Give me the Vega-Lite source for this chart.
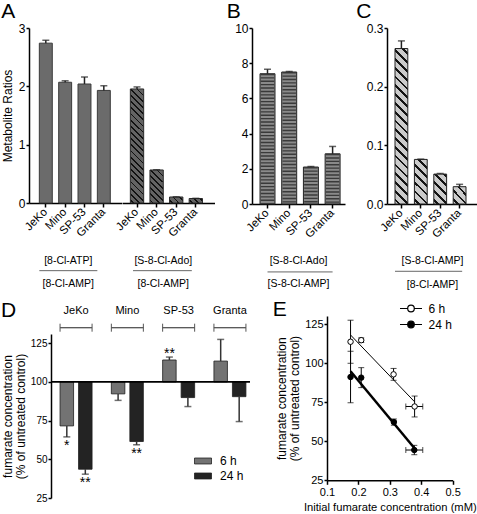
{
"$schema":"https://vega.github.io/schema/vega-lite/v6.json",
"padding":{"top":1,"left":0,"right":0,"bottom":0},
"config":{
 "view":{"stroke":null},
 "font":"Liberation Sans",
 "axis":{"domainColor":"#000","domainWidth":1.5,"tickColor":"#000","tickWidth":1.5,"tickSize":4,"labelColor":"#000","labelFontSize":12,"labelPadding":2,"titleFontSize":12,"titleFontWeight":"normal","titleColor":"#000","grid":false,"labelFlush":false,"labelOverlap":false},
 "axisY":{"tickSize":3,"labelPadding":1},
 "title":{"fontSize":21,"fontWeight":"normal","anchor":"start","color":"#000","offset":4}
},
"datasets":{
 "atp":[{"cell":"JeKo","value":2.74,"hi":2.79},{"cell":"Mino","value":2.07,"hi":2.095},{"cell":"SP-53","value":2.04,"hi":2.16},{"cell":"Granta","value":1.93,"hi":2.01}],
 "ado":[{"cell":"JeKo","value":1.955,"hi":1.99},{"cell":"Mino","value":0.566,"hi":0.57},{"cell":"SP-53","value":0.103,"hi":0.106},{"cell":"Granta","value":0.077,"hi":0.08}],
 "adoS":[{"cell":"JeKo","value":7.4,"hi":7.65},{"cell":"Mino","value":7.5,"hi":7.53},{"cell":"SP-53","value":2.1,"hi":2.13},{"cell":"Granta","value":2.85,"hi":3.27}],
 "ampS":[{"cell":"JeKo","value":0.265,"hi":0.278},{"cell":"Mino","value":0.076,"hi":0.0765},{"cell":"SP-53","value":0.051,"hi":0.052},{"cell":"Granta","value":0.0295,"hi":0.0335}],
 "fA1":[{"num":"[8-Cl-ATP]","den":"[8-Cl-AMP]"}],
 "fA2":[{"num":"[S-8-Cl-Ado]","den":"[8-Cl-AMP]"}],
 "fB":[{"num":"[S-8-Cl-Ado]","den":"[S-8-Cl-AMP]"}],
 "fC":[{"num":"[S-8-Cl-AMP]","den":"[8-Cl-AMP]"}],
 "cells":[{"cell":"JeKo"},{"cell":"Mino"},{"cell":"SP-53"},{"cell":"Granta"}],
 "fum":[
  {"cell":"JeKo","time":"6 h","value":71.6,"end":64.5,"sig":"*"},
  {"cell":"JeKo","time":"24 h","value":43.6,"end":40.4,"sig":"**"},
  {"cell":"Mino","time":"6 h","value":92.3,"end":88.1,"sig":""},
  {"cell":"Mino","time":"24 h","value":61.5,"end":59.4,"sig":"**"},
  {"cell":"SP-53","time":"6 h","value":114.2,"end":116.1,"sig":"**"},
  {"cell":"SP-53","time":"24 h","value":89.9,"end":84.1,"sig":""},
  {"cell":"Granta","time":"6 h","value":113.5,"end":127.5,"sig":""},
  {"cell":"Granta","time":"24 h","value":90.5,"end":74.4,"sig":""}],
 "fit":[
  {"time":"6 h","conc":0.175,"value":113.8,"ylo":100,"yhi":127.6},
  {"time":"6 h","conc":0.209,"value":114.8,"ylo":113.3,"yhi":116.3},
  {"time":"6 h","conc":0.312,"value":92.9,"ylo":89.1,"yhi":96.7},
  {"time":"6 h","conc":0.379,"value":72.3,"ylo":65.6,"yhi":79,"xlo":0.351,"xhi":0.405},
  {"time":"24 h","conc":0.175,"value":91.2,"ylo":74.7,"yhi":107.7},
  {"time":"24 h","conc":0.209,"value":90.8,"ylo":84.4,"yhi":97.2},
  {"time":"24 h","conc":0.313,"value":62.3,"ylo":60.3,"yhi":64.3},
  {"time":"24 h","conc":0.378,"value":44.4,"ylo":41.4,"yhi":47.4,"xlo":0.351,"xhi":0.405}]
},
"spacing":8,
"vconcat":[
 {"spacing":0,"hconcat":[
  {"width":1,"height":1,"data":{"values":[]},"mark":{"type":"point","opacity":0}},
  {"spacing":11,"resolve":{"scale":{"x":"independent","y":"independent"}},"hconcat":[
   {"spacing":11,"resolve":{"scale":{"x":"independent","y":"independent"}},"hconcat":[
    {"spacing":0,"bounds":"flush","resolve":{"scale":{"x":"independent","y":"independent"}},"hconcat":[
     {"width":92.5,"height":175,"title":{"text":"A","dy":4},
      "layer":[
       {"data":{"name":"atp"},"mark":{"type":"bar","fill":"#6b6b6b","stroke":"#3a3a3a","strokeWidth":1},
        "encoding":{"x":{"field":"cell","type":"nominal","scale":{"domain":["JeKo","Mino","SP-53","Granta"],"paddingInner":0.33,"paddingOuter":0.557,"align":0.48},"axis":{"title":null,"labelAngle":-45,"labelAlign":"right","labelBaseline":"middle","labelFontSize":11.5,"labelPadding":3}},
         "y":{"field":"value","type":"quantitative","scale":{"domain":[0,3],"nice":false},"axis":{"values":[0,1,2,3],"format":"d","labelOverlap":false,"title":"Metabolite Ratios","titlePadding":4}}}},
       {"data":{"name":"atp"},"mark":{"type":"rule","strokeWidth":1.5,"color":"#222"},"encoding":{"x":{"field":"cell","type":"nominal"},"y":{"field":"value","type":"quantitative"},"y2":{"field":"hi"}}},
       {"data":{"name":"atp"},"mark":{"type":"tick","size":7,"thickness":1.5,"color":"#222","orient":"horizontal"},"encoding":{"x":{"field":"cell","type":"nominal"},"y":{"field":"hi","type":"quantitative"}}},
       {"data":{"name":"fA1"},"mark":{"type":"text","fontSize":10.5,"dx":-7,"baseline":"middle"},"encoding":{"text":{"field":"num"},"y":{"datum":-0.99}}},
       {"data":{"name":"fA1"},"mark":{"type":"text","fontSize":10.5,"dx":-7,"baseline":"middle"},"encoding":{"text":{"field":"den"},"y":{"datum":-1.385}}},
       {"data":{"name":"fA1"},"mark":{"type":"rule","color":"#666","strokeWidth":1},"encoding":{"x":{"datum":"JeKo","bandPosition":0},"x2":{"datum":"Granta","bandPosition":0},"y":{"datum":-1.16}}}
      ]},
     {"width":92.5,"height":175,
      "layer":[
       {"data":{"name":"ado"},"mark":{"type":"bar","stroke":"#2a2a2a","strokeWidth":1},
        "encoding":{"x":{"field":"cell","type":"nominal","scale":{"domain":["JeKo","Mino","SP-53","Granta"],"paddingInner":0.32,"paddingOuter":0.52,"align":0.41},"axis":{"title":null,"labelAngle":-45,"labelAlign":"right","labelBaseline":"middle","labelFontSize":11.5,"labelPadding":3}},
         "y":{"field":"value","type":"quantitative","scale":{"domain":[0,3],"nice":false},"axis":null},
         "fill":{"condition":[
          {"test":"datum.cell==='JeKo'","value":{"gradient":"linear","x1":0,"y1":1,"x2":0.1282,"y2":-0.1014,"stops":[
{"offset":0.0172,"color":"#636363"},{"offset":0.0172,"color":"#111"},{"offset":0.0313,"color":"#111"},{"offset":0.0313,"color":"#636363"},
{"offset":0.0658,"color":"#636363"},{"offset":0.0658,"color":"#111"},{"offset":0.0799,"color":"#111"},{"offset":0.0799,"color":"#636363"},
{"offset":0.1144,"color":"#636363"},{"offset":0.1144,"color":"#111"},{"offset":0.1285,"color":"#111"},{"offset":0.1285,"color":"#636363"},
{"offset":0.1630,"color":"#636363"},{"offset":0.1630,"color":"#111"},{"offset":0.1771,"color":"#111"},{"offset":0.1771,"color":"#636363"},
{"offset":0.2116,"color":"#636363"},{"offset":0.2116,"color":"#111"},{"offset":0.2257,"color":"#111"},{"offset":0.2257,"color":"#636363"},
{"offset":0.2602,"color":"#636363"},{"offset":0.2602,"color":"#111"},{"offset":0.2743,"color":"#111"},{"offset":0.2743,"color":"#636363"},
{"offset":0.3088,"color":"#636363"},{"offset":0.3088,"color":"#111"},{"offset":0.3229,"color":"#111"},{"offset":0.3229,"color":"#636363"},
{"offset":0.3574,"color":"#636363"},{"offset":0.3574,"color":"#111"},{"offset":0.3715,"color":"#111"},{"offset":0.3715,"color":"#636363"},
{"offset":0.4060,"color":"#636363"},{"offset":0.4060,"color":"#111"},{"offset":0.4201,"color":"#111"},{"offset":0.4201,"color":"#636363"},
{"offset":0.4545,"color":"#636363"},{"offset":0.4545,"color":"#111"},{"offset":0.4687,"color":"#111"},{"offset":0.4687,"color":"#636363"},
{"offset":0.5031,"color":"#636363"},{"offset":0.5031,"color":"#111"},{"offset":0.5172,"color":"#111"},{"offset":0.5172,"color":"#636363"},
{"offset":0.5517,"color":"#636363"},{"offset":0.5517,"color":"#111"},{"offset":0.5658,"color":"#111"},{"offset":0.5658,"color":"#636363"},
{"offset":0.6003,"color":"#636363"},{"offset":0.6003,"color":"#111"},{"offset":0.6144,"color":"#111"},{"offset":0.6144,"color":"#636363"},
{"offset":0.6489,"color":"#636363"},{"offset":0.6489,"color":"#111"},{"offset":0.6630,"color":"#111"},{"offset":0.6630,"color":"#636363"},
{"offset":0.6975,"color":"#636363"},{"offset":0.6975,"color":"#111"},{"offset":0.7116,"color":"#111"},{"offset":0.7116,"color":"#636363"},
{"offset":0.7461,"color":"#636363"},{"offset":0.7461,"color":"#111"},{"offset":0.7602,"color":"#111"},{"offset":0.7602,"color":"#636363"},
{"offset":0.7947,"color":"#636363"},{"offset":0.7947,"color":"#111"},{"offset":0.8088,"color":"#111"},{"offset":0.8088,"color":"#636363"},
{"offset":0.8433,"color":"#636363"},{"offset":0.8433,"color":"#111"},{"offset":0.8574,"color":"#111"},{"offset":0.8574,"color":"#636363"},
{"offset":0.8919,"color":"#636363"},{"offset":0.8919,"color":"#111"},{"offset":0.9060,"color":"#111"},{"offset":0.9060,"color":"#636363"},
{"offset":0.9404,"color":"#636363"},{"offset":0.9404,"color":"#111"},{"offset":0.9546,"color":"#111"},{"offset":0.9546,"color":"#636363"},
{"offset":0.9890,"color":"#636363"},{"offset":0.9890,"color":"#111"},{"offset":1,"color":"#111"}]}},
          {"test":"datum.cell==='Mino'","value":{"gradient":"linear","x1":0,"y1":1,"x2":1.320,"y2":-2.305,"stops":[
{"offset":0.0172,"color":"#636363"},{"offset":0.0172,"color":"#111"},{"offset":0.0313,"color":"#111"},{"offset":0.0313,"color":"#636363"},
{"offset":0.0658,"color":"#636363"},{"offset":0.0658,"color":"#111"},{"offset":0.0799,"color":"#111"},{"offset":0.0799,"color":"#636363"},
{"offset":0.1144,"color":"#636363"},{"offset":0.1144,"color":"#111"},{"offset":0.1285,"color":"#111"},{"offset":0.1285,"color":"#636363"},
{"offset":0.1630,"color":"#636363"},{"offset":0.1630,"color":"#111"},{"offset":0.1771,"color":"#111"},{"offset":0.1771,"color":"#636363"},
{"offset":0.2116,"color":"#636363"},{"offset":0.2116,"color":"#111"},{"offset":0.2257,"color":"#111"},{"offset":0.2257,"color":"#636363"},
{"offset":0.2602,"color":"#636363"},{"offset":0.2602,"color":"#111"},{"offset":0.2743,"color":"#111"},{"offset":0.2743,"color":"#636363"},
{"offset":0.3088,"color":"#636363"},{"offset":0.3088,"color":"#111"},{"offset":0.3229,"color":"#111"},{"offset":0.3229,"color":"#636363"},
{"offset":0.3574,"color":"#636363"},{"offset":0.3574,"color":"#111"},{"offset":0.3715,"color":"#111"},{"offset":0.3715,"color":"#636363"}]}},
          {"test":"datum.cell==='SP-53'","value":{"gradient":"linear","x1":0,"y1":1,"x2":8.061,"y2":-2.515,"stops":[
{"offset":0.0172,"color":"#636363"},{"offset":0.0172,"color":"#111"},{"offset":0.0313,"color":"#111"},{"offset":0.0313,"color":"#636363"},
{"offset":0.0658,"color":"#636363"},{"offset":0.0658,"color":"#111"},{"offset":0.0799,"color":"#111"},{"offset":0.0799,"color":"#636363"},
{"offset":0.1144,"color":"#636363"},{"offset":0.1144,"color":"#111"},{"offset":0.1285,"color":"#111"},{"offset":0.1285,"color":"#636363"}]}}],
          "value":{"gradient":"linear","x1":0,"y1":1,"x2":8.529,"y2":-2.014,"stops":[
{"offset":0.0172,"color":"#636363"},{"offset":0.0172,"color":"#111"},{"offset":0.0313,"color":"#111"},{"offset":0.0313,"color":"#636363"},
{"offset":0.0658,"color":"#636363"},{"offset":0.0658,"color":"#111"},{"offset":0.0799,"color":"#111"},{"offset":0.0799,"color":"#636363"},
{"offset":0.1144,"color":"#636363"},{"offset":0.1144,"color":"#111"},{"offset":0.1285,"color":"#111"},{"offset":0.1285,"color":"#636363"}]}}}},
       {"data":{"name":"ado"},"mark":{"type":"rule","strokeWidth":1.5,"color":"#222"},"encoding":{"x":{"field":"cell","type":"nominal"},"y":{"field":"value","type":"quantitative"},"y2":{"field":"hi"}}},
       {"data":{"name":"ado"},"mark":{"type":"tick","size":7,"thickness":1.5,"color":"#222","orient":"horizontal"},"encoding":{"x":{"field":"cell","type":"nominal"},"y":{"field":"hi","type":"quantitative"}}},
       {"data":{"name":"fA2"},"mark":{"type":"text","fontSize":10.5,"dx":-5,"baseline":"middle"},"encoding":{"text":{"field":"num"},"y":{"datum":-0.99}}},
       {"data":{"name":"fA2"},"mark":{"type":"text","fontSize":10.5,"dx":-5,"baseline":"middle"},"encoding":{"text":{"field":"den"},"y":{"datum":-1.385}}},
       {"data":{"name":"fA2"},"mark":{"type":"rule","color":"#666","strokeWidth":1},"encoding":{"x":{"datum":"JeKo","bandPosition":0.2},"x2":{"datum":"Granta","bandPosition":0.2},"y":{"datum":-1.16}}}
      ]}
    ]},
    {"width":93,"height":176,"title":{"text":"B","dx":-8,"dy":4},
     "layer":[
      {"data":{"name":"adoS"},"mark":{"type":"bar","fill":"#8a8a8a","stroke":"#222","strokeWidth":1},
       "encoding":{"x":{"field":"cell","type":"nominal","scale":{"domain":["JeKo","Mino","SP-53","Granta"],"paddingInner":0.31,"paddingOuter":0.298,"align":0.62},"axis":{"title":null,"labelAngle":-45,"labelAlign":"right","labelBaseline":"middle","labelFontSize":11.5,"labelPadding":3}},
        "y":{"field":"value","type":"quantitative","scale":{"domain":[0,10],"nice":false},"axis":{"tickCount":5,"format":"d","labelOverlap":false,"title":null}}}},
      {"data":{"name":"adoS"},"mark":{"type":"rule","strokeWidth":13.5,"strokeDash":[1.4,2],"color":"#3a3a3a"},"encoding":{"x":{"field":"cell","type":"nominal"},"y":{"field":"value","type":"quantitative"},"y2":{"datum":0}}},
      {"data":{"name":"adoS"},"mark":{"type":"rule","strokeWidth":1.5,"color":"#222"},"encoding":{"x":{"field":"cell","type":"nominal"},"y":{"field":"value","type":"quantitative"},"y2":{"field":"hi"}}},
      {"data":{"name":"adoS"},"mark":{"type":"tick","size":7,"thickness":1.5,"color":"#222","orient":"horizontal"},"encoding":{"x":{"field":"cell","type":"nominal"},"y":{"field":"hi","type":"quantitative"}}},
      {"data":{"name":"fB"},"mark":{"type":"text","fontSize":10.5,"baseline":"middle"},"encoding":{"text":{"field":"num"},"y":{"datum":-3.26}}},
      {"data":{"name":"fB"},"mark":{"type":"text","fontSize":10.5,"baseline":"middle"},"encoding":{"text":{"field":"den"},"y":{"datum":-4.53}}},
      {"data":{"name":"fB"},"mark":{"type":"rule","color":"#666","strokeWidth":1},"encoding":{"x":{"datum":"JeKo"},"x2":{"datum":"Granta"},"y":{"datum":-3.86}}}
     ]}
   ]},
   {"width":93,"height":176,"title":{"text":"C","dx":-10,"dy":4},
    "layer":[
     {"data":{"name":"ampS"},"mark":{"type":"bar","stroke":"#222","strokeWidth":1},
      "encoding":{"x":{"field":"cell","type":"nominal","scale":{"domain":["JeKo","Mino","SP-53","Granta"],"paddingInner":0.34,"paddingOuter":0.567,"align":0.364},"axis":{"title":null,"labelAngle":-45,"labelAlign":"right","labelBaseline":"middle","labelFontSize":11.5,"labelPadding":3}},
       "y":{"field":"value","type":"quantitative","scale":{"domain":[0,0.3],"nice":false},"axis":{"values":[0,0.1,0.2,0.3],"format":".1f","labelOverlap":false,"title":null}},
       "fill":{"condition":[
        {"test":"datum.cell==='JeKo'","value":{"gradient":"linear","x1":0,"y1":1,"x2":0.0885,"y2":-0.075,"stops":[
{"offset":0.0178,"color":"#cbcbcb"},{"offset":0.0178,"color":"#141414"},{"offset":0.0344,"color":"#141414"},{"offset":0.0344,"color":"#cbcbcb"},
{"offset":0.0701,"color":"#cbcbcb"},{"offset":0.0701,"color":"#141414"},{"offset":0.0867,"color":"#141414"},{"offset":0.0867,"color":"#cbcbcb"},
{"offset":0.1224,"color":"#cbcbcb"},{"offset":0.1224,"color":"#141414"},{"offset":0.1390,"color":"#141414"},{"offset":0.1390,"color":"#cbcbcb"},
{"offset":0.1747,"color":"#cbcbcb"},{"offset":0.1747,"color":"#141414"},{"offset":0.1913,"color":"#141414"},{"offset":0.1913,"color":"#cbcbcb"},
{"offset":0.2270,"color":"#cbcbcb"},{"offset":0.2270,"color":"#141414"},{"offset":0.2436,"color":"#141414"},{"offset":0.2436,"color":"#cbcbcb"},
{"offset":0.2793,"color":"#cbcbcb"},{"offset":0.2793,"color":"#141414"},{"offset":0.2959,"color":"#141414"},{"offset":0.2959,"color":"#cbcbcb"},
{"offset":0.3316,"color":"#cbcbcb"},{"offset":0.3316,"color":"#141414"},{"offset":0.3482,"color":"#141414"},{"offset":0.3482,"color":"#cbcbcb"},
{"offset":0.3839,"color":"#cbcbcb"},{"offset":0.3839,"color":"#141414"},{"offset":0.4005,"color":"#141414"},{"offset":0.4005,"color":"#cbcbcb"},
{"offset":0.4361,"color":"#cbcbcb"},{"offset":0.4361,"color":"#141414"},{"offset":0.4527,"color":"#141414"},{"offset":0.4527,"color":"#cbcbcb"},
{"offset":0.4884,"color":"#cbcbcb"},{"offset":0.4884,"color":"#141414"},{"offset":0.5050,"color":"#141414"},{"offset":0.5050,"color":"#cbcbcb"},
{"offset":0.5407,"color":"#cbcbcb"},{"offset":0.5407,"color":"#141414"},{"offset":0.5573,"color":"#141414"},{"offset":0.5573,"color":"#cbcbcb"},
{"offset":0.5930,"color":"#cbcbcb"},{"offset":0.5930,"color":"#141414"},{"offset":0.6096,"color":"#141414"},{"offset":0.6096,"color":"#cbcbcb"},
{"offset":0.6453,"color":"#cbcbcb"},{"offset":0.6453,"color":"#141414"},{"offset":0.6619,"color":"#141414"},{"offset":0.6619,"color":"#cbcbcb"},
{"offset":0.6976,"color":"#cbcbcb"},{"offset":0.6976,"color":"#141414"},{"offset":0.7142,"color":"#141414"},{"offset":0.7142,"color":"#cbcbcb"},
{"offset":0.7499,"color":"#cbcbcb"},{"offset":0.7499,"color":"#141414"},{"offset":0.7665,"color":"#141414"},{"offset":0.7665,"color":"#cbcbcb"},
{"offset":0.8022,"color":"#cbcbcb"},{"offset":0.8022,"color":"#141414"},{"offset":0.8188,"color":"#141414"},{"offset":0.8188,"color":"#cbcbcb"},
{"offset":0.8545,"color":"#cbcbcb"},{"offset":0.8545,"color":"#141414"},{"offset":0.8711,"color":"#141414"},{"offset":0.8711,"color":"#cbcbcb"},
{"offset":0.9067,"color":"#cbcbcb"},{"offset":0.9067,"color":"#141414"},{"offset":0.9233,"color":"#141414"},{"offset":0.9233,"color":"#cbcbcb"},
{"offset":0.9590,"color":"#cbcbcb"},{"offset":0.9590,"color":"#141414"},{"offset":0.9756,"color":"#141414"},{"offset":0.9756,"color":"#cbcbcb"}]}},
        {"test":"datum.cell==='Mino'","value":{"gradient":"linear","x1":0,"y1":1,"x2":1.0006,"y2":-2.486,"stops":[
{"offset":0.0178,"color":"#cbcbcb"},{"offset":0.0178,"color":"#141414"},{"offset":0.0344,"color":"#141414"},{"offset":0.0344,"color":"#cbcbcb"},
{"offset":0.0701,"color":"#cbcbcb"},{"offset":0.0701,"color":"#141414"},{"offset":0.0867,"color":"#141414"},{"offset":0.0867,"color":"#cbcbcb"},
{"offset":0.1224,"color":"#cbcbcb"},{"offset":0.1224,"color":"#141414"},{"offset":0.1390,"color":"#141414"},{"offset":0.1390,"color":"#cbcbcb"},
{"offset":0.1747,"color":"#cbcbcb"},{"offset":0.1747,"color":"#141414"},{"offset":0.1913,"color":"#141414"},{"offset":0.1913,"color":"#cbcbcb"},
{"offset":0.2270,"color":"#cbcbcb"},{"offset":0.2270,"color":"#141414"},{"offset":0.2436,"color":"#141414"},{"offset":0.2436,"color":"#cbcbcb"},
{"offset":0.2793,"color":"#cbcbcb"},{"offset":0.2793,"color":"#141414"},{"offset":0.2959,"color":"#141414"},{"offset":0.2959,"color":"#cbcbcb"},
{"offset":0.3316,"color":"#cbcbcb"},{"offset":0.3316,"color":"#141414"},{"offset":0.3482,"color":"#141414"},{"offset":0.3482,"color":"#cbcbcb"}]}},
        {"test":"datum.cell==='SP-53'","value":{"gradient":"linear","x1":0,"y1":1,"x2":2.107,"y2":-3.824,"stops":[
{"offset":0.0178,"color":"#cbcbcb"},{"offset":0.0178,"color":"#141414"},{"offset":0.0344,"color":"#141414"},{"offset":0.0344,"color":"#cbcbcb"},
{"offset":0.0701,"color":"#cbcbcb"},{"offset":0.0701,"color":"#141414"},{"offset":0.0867,"color":"#141414"},{"offset":0.0867,"color":"#cbcbcb"},
{"offset":0.1224,"color":"#cbcbcb"},{"offset":0.1224,"color":"#141414"},{"offset":0.1390,"color":"#141414"},{"offset":0.1390,"color":"#cbcbcb"},
{"offset":0.1747,"color":"#cbcbcb"},{"offset":0.1747,"color":"#141414"},{"offset":0.1913,"color":"#141414"},{"offset":0.1913,"color":"#cbcbcb"},
{"offset":0.2270,"color":"#cbcbcb"},{"offset":0.2270,"color":"#141414"},{"offset":0.2436,"color":"#141414"},{"offset":0.2436,"color":"#cbcbcb"}]}}],
        "value":{"gradient":"linear","x1":0,"y1":1,"x2":4.757,"y2":-5.318,"stops":[
{"offset":0.0178,"color":"#cbcbcb"},{"offset":0.0178,"color":"#141414"},{"offset":0.0344,"color":"#141414"},{"offset":0.0344,"color":"#cbcbcb"},
{"offset":0.0701,"color":"#cbcbcb"},{"offset":0.0701,"color":"#141414"},{"offset":0.0867,"color":"#141414"},{"offset":0.0867,"color":"#cbcbcb"},
{"offset":0.1224,"color":"#cbcbcb"},{"offset":0.1224,"color":"#141414"},{"offset":0.1390,"color":"#141414"},{"offset":0.1390,"color":"#cbcbcb"},
{"offset":0.1747,"color":"#cbcbcb"},{"offset":0.1747,"color":"#141414"},{"offset":0.1913,"color":"#141414"},{"offset":0.1913,"color":"#cbcbcb"}]}}}},
     {"data":{"name":"ampS"},"mark":{"type":"rule","strokeWidth":1.5,"color":"#222"},"encoding":{"x":{"field":"cell","type":"nominal"},"y":{"field":"value","type":"quantitative"},"y2":{"field":"hi"}}},
     {"data":{"name":"ampS"},"mark":{"type":"tick","size":7,"thickness":1.5,"color":"#222","orient":"horizontal"},"encoding":{"x":{"field":"cell","type":"nominal"},"y":{"field":"hi","type":"quantitative"}}},
     {"data":{"name":"fC"},"mark":{"type":"text","fontSize":10.5,"dx":-1,"baseline":"middle"},"encoding":{"text":{"field":"num"},"y":{"datum":-0.0977}}},
     {"data":{"name":"fC"},"mark":{"type":"text","fontSize":10.5,"dx":-1,"baseline":"middle"},"encoding":{"text":{"field":"den"},"y":{"datum":-0.1375}}},
     {"data":{"name":"fC"},"mark":{"type":"rule","color":"#666","strokeWidth":1},"encoding":{"x":{"datum":"JeKo","bandPosition":0},"x2":{"datum":"Granta","bandPosition":0.7},"y":{"datum":-0.1147}}}
    ]}
  ]}
 ]},
 {"spacing":0,"hconcat":[
  {"width":1,"height":1,"data":{"values":[]},"mark":{"type":"point","opacity":0}},
  {"spacing":21,"resolve":{"scale":{"x":"independent","y":"independent","fill":"independent"}},"hconcat":[
   {"spacing":0,"bounds":"flush","resolve":{"scale":{"x":"independent","y":"independent"}},"vconcat":[
    {"width":199,"height":18,"title":{"text":"D","dx":-50,"dy":20.5},
     "data":{"name":"cells"},
     "encoding":{"x":{"field":"cell","type":"nominal","scale":{"domain":["JeKo","Mino","SP-53","Granta"],"paddingInner":0.376,"paddingOuter":0.128,"align":0.69},"axis":{"orient":"top","title":null,"domain":false,"ticks":false,"labelAngle":0,"labelFontSize":11,"labelPadding":1}}},
     "layer":[
      {"mark":{"type":"bar","fill":"transparent","stroke":"#555","strokeWidth":1,"strokeDash":[0,32,8,32,8]},"encoding":{"y":{"datum":2.3,"type":"quantitative","scale":{"domain":[0,18]},"axis":null},"y2":{"datum":10.3}}},
      {"mark":{"type":"bar","fill":"transparent","stroke":"#555","strokeWidth":1},"encoding":{"y":{"datum":6.3,"type":"quantitative","axis":null},"y2":{"datum":6.3}}}
     ]},
    {"width":199,"height":164,
     "data":{"name":"fum"},
     "layer":[
      {"mark":{"type":"bar","stroke":"#1e1e1e","strokeWidth":0.8},
       "encoding":{"x":{"field":"cell","type":"nominal","scale":{"domain":["JeKo","Mino","SP-53","Granta"],"paddingInner":0.376,"paddingOuter":0.128,"align":0.69},"axis":null},
        "xOffset":{"field":"time","type":"nominal","scale":{"domain":["6 h","24 h"],"paddingInner":0.27,"paddingOuter":0}},
        "y":{"field":"value","type":"quantitative","scale":{"domain":[25,131],"nice":false,"zero":false},"axis":{"values":[25,50,75,100,125],"labelOverlap":false,"title":["fumarate concentration","(% of untreated control)"],"titlePadding":3,"labelFontSize":10,"titleLineHeight":13}},
        "y2":{"datum":100},
        "fill":{"field":"time","type":"nominal","scale":{"domain":["6 h","24 h"],"range":["#737373","#232323"]},"legend":{"orient":"none","legendX":143,"legendY":136,"title":null,"symbolType":"M-1,-0.35H1V0.35H-1Z","symbolSize":289,"symbolStrokeColor":"#222","symbolStrokeWidth":0.8,"labelFontSize":12,"labelOffset":8,"rowPadding":0,"padding":0}}}},
      {"mark":{"type":"rule","strokeWidth":1.5,"color":"#333"},"encoding":{"x":{"field":"cell","type":"nominal"},"xOffset":{"field":"time","type":"nominal"},"y":{"field":"value","type":"quantitative"},"y2":{"field":"end"}}},
      {"mark":{"type":"tick","size":7,"thickness":1.5,"color":"#333","orient":"horizontal"},"encoding":{"x":{"field":"cell","type":"nominal"},"xOffset":{"field":"time","type":"nominal"},"y":{"field":"end","type":"quantitative"}}},
      {"transform":[{"filter":"datum.sig !== '' && datum.end < datum.value"}],"mark":{"type":"text","baseline":"top","dy":2,"fontSize":14,"color":"#000"},"encoding":{"x":{"field":"cell","type":"nominal"},"xOffset":{"field":"time","type":"nominal"},"y":{"field":"end","type":"quantitative"},"text":{"field":"sig"}}},
      {"transform":[{"filter":"datum.sig !== '' && datum.end > datum.value"}],"mark":{"type":"text","baseline":"bottom","dy":4,"fontSize":14,"color":"#000"},"encoding":{"x":{"field":"cell","type":"nominal"},"xOffset":{"field":"time","type":"nominal"},"y":{"field":"end","type":"quantitative"},"text":{"field":"sig"}}},
      {"data":{"values":[{}]},"mark":{"type":"rule","strokeWidth":1.8,"color":"#000"},"encoding":{"y":{"datum":100,"type":"quantitative"}}}
     ]}
   ]},
   {"width":125.6,"height":164.3,"title":{"text":"E","dx":-3,"dy":25},
    "data":{"name":"fit"},
    "layer":[
     {"transform":[{"filter":"datum.time==='6 h'"},{"regression":"value","on":"conc"}],"mark":{"type":"line","color":"#000","strokeWidth":1},
      "encoding":{"x":{"field":"conc","type":"quantitative","scale":{"domain":[0.1,0.5],"nice":false,"zero":false},"axis":{"tickCount":4,"format":".1f","labelOverlap":false,"title":"Initial fumarate concentration (mM)","titleFontSize":11.2,"labelFontSize":11,"titlePadding":4}},
       "y":{"field":"value","type":"quantitative","scale":{"domain":[25,130.3],"nice":false,"zero":false},"axis":{"values":[25,50,75,100,125],"labelOverlap":false,"title":["fumarate concentration","(% of untreated control)"],"titlePadding":3,"labelFontSize":11,"titleLineHeight":13}}}},
     {"transform":[{"filter":"datum.time==='24 h'"},{"regression":"value","on":"conc"}],"mark":{"type":"line","color":"#000","strokeWidth":2.5},
      "encoding":{"x":{"field":"conc","type":"quantitative"},"y":{"field":"value","type":"quantitative"}}},
     {"mark":{"type":"rule","color":"#000","strokeWidth":1},"encoding":{"x":{"field":"conc","type":"quantitative"},"y":{"field":"ylo","type":"quantitative"},"y2":{"field":"yhi"}}},
     {"mark":{"type":"tick","orient":"horizontal","size":6,"thickness":1,"color":"#000"},"encoding":{"x":{"field":"conc","type":"quantitative"},"y":{"field":"ylo","type":"quantitative"}}},
     {"mark":{"type":"tick","orient":"horizontal","size":6,"thickness":1,"color":"#000"},"encoding":{"x":{"field":"conc","type":"quantitative"},"y":{"field":"yhi","type":"quantitative"}}},
     {"transform":[{"filter":"isValid(datum.xlo)"}],"mark":{"type":"rule","color":"#000","strokeWidth":1},"encoding":{"x":{"field":"xlo","type":"quantitative"},"x2":{"field":"xhi"},"y":{"field":"value","type":"quantitative"}}},
     {"transform":[{"filter":"isValid(datum.xlo)"}],"mark":{"type":"tick","orient":"vertical","size":6,"thickness":1,"color":"#000"},"encoding":{"x":{"field":"xlo","type":"quantitative"},"y":{"field":"value","type":"quantitative"}}},
     {"transform":[{"filter":"isValid(datum.xlo)"}],"mark":{"type":"tick","orient":"vertical","size":6,"thickness":1,"color":"#000"},"encoding":{"x":{"field":"xhi","type":"quantitative"},"y":{"field":"value","type":"quantitative"}}},
     {"mark":{"type":"point","shape":"circle","filled":true,"stroke":"#000","strokeWidth":1,"size":30,"opacity":1},
      "encoding":{"x":{"field":"conc","type":"quantitative"},"y":{"field":"value","type":"quantitative"},
       "fill":{"field":"time","type":"nominal","scale":{"domain":["6 h","24 h"],"range":["#ffffff","#000000"]},"legend":{"orient":"none","legendX":74.5,"legendY":-17,"title":null,"symbolType":"M-1.25,0H-0.375M0.375,0H1.25M-0.375,0A0.375,0.375,0,1,1,0.375,0A0.375,0.375,0,1,1,-0.375,0Z","symbolSize":310,"symbolStrokeColor":"#000","symbolStrokeWidth":1.2,"labelFontSize":12,"labelOffset":8,"rowPadding":0,"padding":0}}}}
    ]}
  ]}
 ]}
]
}
